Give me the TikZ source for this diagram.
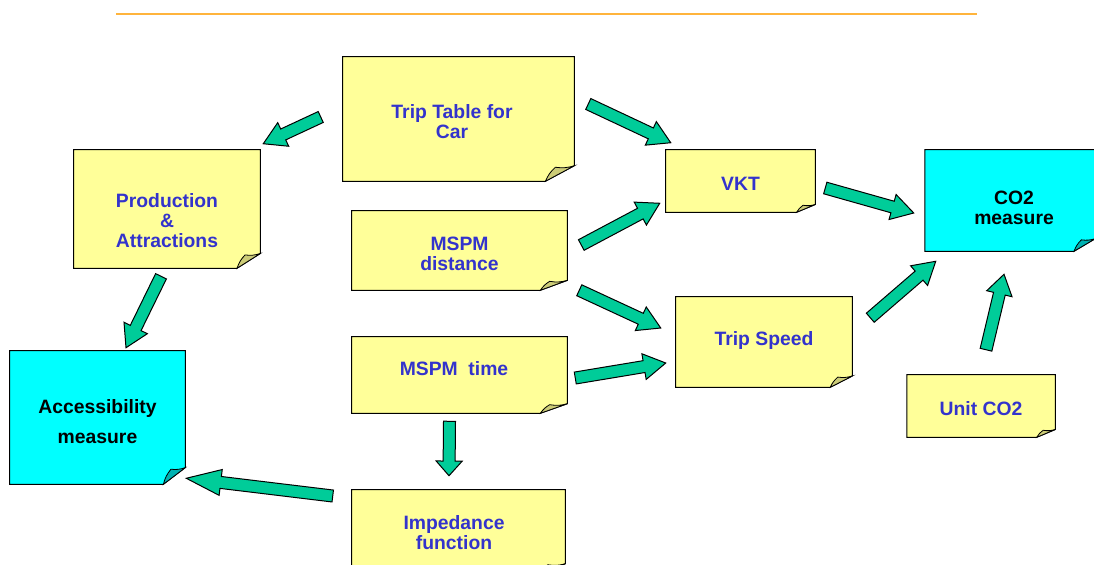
\documentclass[tikz,border=0pt]{standalone}
\usepackage{fontspec}
\newfontfamily\notefont{Liberation Sans}
\usetikzlibrary{calc}

\definecolor{noteyellow}{RGB}{255,255,153}
\definecolor{foldyellow}{RGB}{204,204,119}
\definecolor{notecyan}{RGB}{0,255,255}
\definecolor{foldcyan}{RGB}{0,178,178}
\definecolor{notetext}{RGB}{51,51,204}
\definecolor{arrowgreen}{RGB}{0,204,153}
\definecolor{rulecolor}{RGB}{255,180,60}

\tikzset{
	note/.style n args={4}{
		rectangle, minimum width=#1*0.75pt, minimum height=#2*0.75pt, inner sep=0pt,
		append after command={\pgfextra{
			\filldraw[fill=#3, draw=black, line width=0.75pt]
				(\tikzlastnode.north west) -- (\tikzlastnode.north east)
				-- ($(\tikzlastnode.south east)+(0,-#2/8)$) -- ($(\tikzlastnode.south east)+(-#1/8,0)$)
				-- (\tikzlastnode.south west) -- cycle;
			\filldraw[fill=#4, draw=black, line width=0.6pt]
				($(\tikzlastnode.south east)+(-#1/8,0)$)
				to[bend left=12] ($(\tikzlastnode.south east)+(-#1*0.082,-#2*0.113)$)
				to[bend right=12] ($(\tikzlastnode.south east)+(0,-#2/8)$) -- cycle;
		}}
	},
	yellownote/.style 2 args={note={#1}{#2}{noteyellow}{foldyellow}},
	cyannote/.style 2 args={note={#1}{#2}{notecyan}{foldcyan}},
	notelabel/.style={align=center, font=\notefont\bfseries\fontsize{14.5}{15}\selectfont},
	bluetext/.style={notelabel, text=notetext},
	blacktext/.style={notelabel, text=black},
	blockarrow/.style={fill=arrowgreen, draw=black, line width=0.75pt, line join=miter},
}

% block arrow between two named coordinates, optional head length
\newcommand\blockarrow[3][16.5pt]{%
	\coordinate (ba-base) at ($(#3)!#1!(#2)$);
	\filldraw[blockarrow] ($(#2)!4.5pt!90:(#3)$) -- ($(ba-base)!4.5pt!90:(#3)$)
		-- ($(ba-base)!9.75pt!90:(#3)$) -- (#3) -- ($(ba-base)!9.75pt!-90:(#3)$)
		-- ($(ba-base)!4.5pt!-90:(#3)$) -- ($(#2)!4.5pt!-90:(#3)$) -- cycle;
}

\begin{document}
\begin{tikzpicture}[x=0.75pt, y=-0.75pt]
	\useasboundingbox (0,0) rectangle (1094,564);
	\draw[rulecolor, line width=1.5pt] (116,14) -- (977,14);

	% notes
	\node[yellownote={231}{124}, label={[bluetext, shift={(-6.5,3)}]center:Trip Table for\\Car}] (trip) at (458.5,119) {};
	\node[yellownote={186}{118}, label={[bluetext, shift={(0,11.5)}]center:Production\\\&\\Attractions}] (prod) at (167,209) {};
	\node[yellownote={215}{79}, label={[bluetext, shift={(0,3.5)}]center:MSPM\\distance}] (dist) at (459.5,250.5) {};
	\node[yellownote={149}{62}, label={[bluetext, shift={(0,3)}]center:VKT}] (vkt) at (740.5,181) {};
	\node[cyannote={170}{101}, label={[blacktext, shift={(4,7)}]center:CO2\\measure}] (co2) at (1010,200.5) {};
	\node[yellownote={176}{90}, label={[bluetext, shift={(0,-2)}]center:Trip Speed}] (speed) at (764,342) {};
	\node[yellownote={215}{76}, label={[bluetext, shift={(-5.5,-6)}]center:MSPM\ \ time}] (time) at (459.5,375) {};
	\node[yellownote={148}{62}, label={[bluetext, shift={(0,3)}]center:Unit CO2}] (unit) at (981,406) {};
	\node[cyannote={175}{133}, label={[blacktext, shift={(0,4)}]center:Accessibility\\[8pt]measure}] (access) at (97.5,417.5) {};
	\node[yellownote={213}{84}, label={[bluetext, shift={(-4.5,1)}]center:Impedance\\function}] (imped) at (458.5,532) {};

	% arrow ends
	\coordinate (a1s) at ($(trip.west)+(-22,-2)$);
	\coordinate (a1e) at ($(prod.north east)+(3,-6)$);
	\coordinate (a2s) at ($(trip.east)+(14,-15)$);
	\coordinate (a2e) at ($(vkt.north west)+(5,-7)$);
	\coordinate (a3s) at ($(dist.east)+(14,-5.5)$);
	\coordinate (a3e) at ($(vkt.south west)+(-6,-9)$);
	\coordinate (a4s) at ($(dist.south east)+(12,0)$);
	\coordinate (a4e) at ($(speed.west)+(-15,-14)$);
	\coordinate (a5s) at ($(time.east)+(8,3)$);
	\coordinate (a5e) at ($(speed.west)+(-10,21)$);
	\coordinate (a6s) at ($(vkt.east)+(10,7)$);
	\coordinate (a6e) at ($(co2.west)+(-11,12.5)$);
	\coordinate (a7s) at ($(speed.north east)+(18,21)$);
	\coordinate (a7e) at ($(co2.south west)+(11,10)$);
	\coordinate (a8s) at ($(unit.north)+(5,-25)$);
	\coordinate (a8e) at ($(co2.south)+(-6,23)$);
	\coordinate (a9s) at ($(time.south)+(-10,8)$);
	\coordinate (a9e) at ($(imped.north)+(-9.5,-14)$);
	\coordinate (a10s) at ($(prod.south)+(-6,8)$);
	\coordinate (a10e) at ($(access.north)+(28.5,-3)$);
	\coordinate (a11s) at ($(imped.west)+(-19,-36)$);
	\coordinate (a11e) at ($(access.south east)+(1,-6)$);

	% arrows
	\blockarrow{a1s}{a1e}
	\blockarrow{a2s}{a2e}
	\blockarrow{a3s}{a3e}
	\blockarrow{a4s}{a4e}
	\blockarrow{a5s}{a5e}
	\blockarrow{a6s}{a6e}
	\blockarrow{a7s}{a7e}
	\blockarrow[15pt]{a8s}{a8e}
	\blockarrow[11pt]{a9s}{a9e}
	\blockarrow{a10s}{a10e}
	\blockarrow[26pt]{a11s}{a11e}
\end{tikzpicture}
\end{document}
